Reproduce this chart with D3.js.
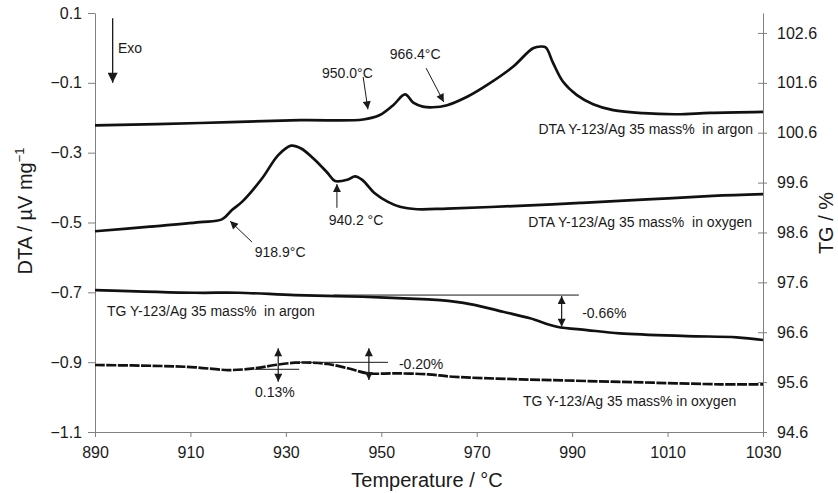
<!DOCTYPE html>
<html>
<head>
<meta charset="utf-8">
<script src="https://cdn.jsdelivr.net/npm/d3@7"></script>
<style>
  html, body { margin: 0; padding: 0; background: #fff; }
  svg text { font-family: "Liberation Sans", Arial, sans-serif; fill: #1a1a1a; }
</style>
</head>
<body>
<svg id="chart" width="838" height="493"></svg>
<script>
// ---- data ----
const xTicks = [890, 910, 930, 950, 970, 990, 1010, 1030];
const yLeftTicks = [-1.1, -0.9, -0.7, -0.5, -0.3, -0.1, 0.1];
const yRightTicks = [94.6, 95.6, 96.6, 97.6, 98.6, 99.6, 100.6, 101.6, 102.6];

const dtaArgonT = [890, 912, 933, 946.2, 949.7, 952.5, 955, 956.7, 958.7, 960.8, 963.8, 968, 972.2, 977.6, 981.8, 983.5, 984.5, 986, 988.1, 991, 994.4, 998.6, 1004.9, 1012, 1018.9, 1030];
const dtaArgonV = [-0.222, -0.215, -0.207, -0.205, -0.192, -0.164, -0.133, -0.157, -0.168, -0.170, -0.164, -0.140, -0.106, -0.054, -0.001, 0.004, 0.001, -0.043, -0.097, -0.135, -0.161, -0.178, -0.187, -0.190, -0.186, -0.183];

const dtaOxT = [890, 901.5, 912, 916.6, 918.7, 920.8, 925, 928.4, 931.1, 933.2, 936.1, 938.8, 940.3, 943, 944.5, 946, 948.7, 951.4, 953.9, 957.5, 963.8, 977.6, 991.7, 1005.7, 1019.5, 1030];
const dtaOxV = [-0.525, -0.512, -0.499, -0.491, -0.464, -0.441, -0.374, -0.307, -0.280, -0.288, -0.321, -0.359, -0.381, -0.377, -0.368, -0.378, -0.417, -0.441, -0.455, -0.462, -0.460, -0.453, -0.444, -0.434, -0.424, -0.419];

const tgArT = [890, 911, 920, 931.9, 946, 959.8, 962.3, 968.6, 975.5, 981.2, 986.8, 993.1, 1000, 1014, 1024.5, 1030];
const tgArV = [97.446, 97.392, 97.392, 97.345, 97.311, 97.259, 97.245, 97.165, 97.011, 96.879, 96.710, 96.644, 96.578, 96.524, 96.498, 96.444];

const tgOxT = [890, 904, 911, 917.9, 923.5, 927.7, 931.9, 935.5, 938.8, 943, 947.2, 952.9, 959.8, 965, 979.1, 993.1, 1007, 1021, 1030];
const tgOxV = [95.943, 95.923, 95.897, 95.842, 95.877, 95.943, 95.989, 95.989, 95.963, 95.877, 95.776, 95.776, 95.756, 95.708, 95.656, 95.622, 95.588, 95.556, 95.556];

// series labels: [text, T, value, axis, anchor]
const seriesLabels = [
  ["DTA Y-123/Ag 35 mass%  in argon", 1027.9, -0.232, "L", "end"],
  ["DTA Y-123/Ag 35 mass%  in oxygen", 1027.7, -0.498, "L", "end"],
  ["TG Y-123/Ag 35 mass%  in argon", 892.5, 97.025, "R", "start"],
  ["TG Y-123/Ag 35 mass% in oxygen", 979.7, 95.221, "R", "start"]
];

// temperature annotations: [text, textT, textV, tailT, tailV, tipT, tipV]
const tempNotes = [
  ["950.0°C", 942.9, -0.072, 946.2, -0.083, 947.2, -0.176],
  ["966.4°C", 957.1, -0.017, 959.4, -0.058, 963.1, -0.155],
  ["918.9°C", 928.8, -0.585, 922.9, -0.556, 918.3, -0.496],
  ["940.2 °C", 944.7, -0.493, 940.7, -0.458, 940.7, -0.390]
];

// TG step annotations (right axis units)
const refLines = [ // [T1, T2, value]
  [940, 991.4, 97.345],
  [923.5, 932.8, 95.857],
  [931.9, 951.4, 95.997]
];
const doubleArrows = [ // [T, v1, v2]
  [987.8, 97.325, 96.71],
  [928.4, 96.277, 95.608],
  [947.4, 96.277, 95.642]
];
const stepLabels = [ // [text, T, v, anchor]
  ["-0.66%", 992.1, 96.99, "start"],
  ["0.13%", 927.7, 95.408, "middle"],
  ["-0.20%", 953.7, 95.963, "start"]
];

// ---- chart ----
const svg = d3.select("#chart");
const x = d3.scaleLinear([890, 1030], [95, 763]);
const yL = d3.scaleLinear([-1.1, 0.1], [432, 13]);
const yR = d3.scaleLinear([94.6, 103.0], [432, 13]);
const axisColor = "#808080";

const defs = svg.append("defs");
defs.append("marker").attr("id", "ah").attr("viewBox", "0 0 10 10")
  .attr("refX", 10).attr("refY", 5).attr("markerWidth", 9).attr("markerHeight", 8)
  .attr("markerUnits", "userSpaceOnUse").attr("orient", "auto-start-reverse")
  .append("path").attr("d", "M0,0 L10,5 L0,10 z").attr("fill", "#1a1a1a");
defs.append("marker").attr("id", "ahBig").attr("viewBox", "0 0 10 10")
  .attr("refX", 10).attr("refY", 5).attr("markerWidth", 11).attr("markerHeight", 10)
  .attr("markerUnits", "userSpaceOnUse").attr("orient", "auto")
  .append("path").attr("d", "M0,0 L10,5 L0,10 z").attr("fill", "#1a1a1a");

function styleAxis(g) {
  g.selectAll("path.domain").attr("stroke", axisColor).attr("stroke-width", 1);
  g.selectAll(".tick line").attr("stroke", axisColor);
  g.selectAll(".tick text").attr("font-size", 16).attr("fill", "#1a1a1a")
    .attr("font-family", "Liberation Sans, Arial, sans-serif");
}

const gx = svg.append("g").attr("transform", "translate(0,432)")
  .call(d3.axisBottom(x).tickValues(xTicks).tickSize(5).tickSizeOuter(0).tickPadding(10).tickFormat(d3.format("d")));
styleAxis(gx);

const fmtL = d => d3.format(".1f")(d);
const gyl = svg.append("g").attr("transform", "translate(95,0)")
  .call(d3.axisLeft(yL).tickValues(yLeftTicks).tickSize(7).tickSizeOuter(0).tickPadding(6).tickFormat(fmtL));
styleAxis(gyl);

const gyr = svg.append("g").attr("transform", "translate(763,0)")
  .call(d3.axisRight(yR).tickValues(yRightTicks).tickSize(4).tickSizeOuter(0).tickPadding(10).tickFormat(d3.format(".1f")));
styleAxis(gyr);
gyr.selectAll(".tick line").attr("x1", -5).attr("x2", 4);

// axis titles
svg.append("text").attr("transform", "translate(32,211) rotate(-90)")
  .attr("text-anchor", "middle").attr("font-size", 20)
  .text("DTA / µV mg")
  .append("tspan").attr("font-size", 13).attr("dy", -8).text("−1");
svg.append("text").attr("transform", "translate(833,223) rotate(-90)")
  .attr("text-anchor", "middle").attr("font-size", 20).text("TG / %");
svg.append("text").attr("x", 427).attr("y", 487)
  .attr("text-anchor", "middle").attr("font-size", 20).text("Temperature / °C");

// curves
const curve = d3.curveCatmullRom.alpha(0.5);
function drawSeries(ts, vs, yScale, dash) {
  const pts = ts.map((t, i) => [t, vs[i]]);
  const p = svg.append("path").datum(pts)
    .attr("fill", "none").attr("stroke", "#111").attr("stroke-width", 2.7)
    .attr("stroke-linejoin", "round")
    .attr("d", d3.line().x(d => x(d[0])).y(d => yScale(d[1])).curve(curve));
  if (dash) p.attr("stroke-dasharray", dash);
}
drawSeries(dtaArgonT, dtaArgonV, yL);
drawSeries(dtaOxT, dtaOxV, yL);
drawSeries(tgArT, tgArV, yR);
drawSeries(tgOxT, tgOxV, yR, "10,1.5");

// series labels
seriesLabels.forEach(([t, T, v, ax, anchor]) => {
  const ys = ax === "L" ? yL : yR;
  svg.append("text").attr("x", x(T)).attr("y", ys(v)).attr("dy", "0.35em")
    .attr("text-anchor", anchor).attr("font-size", 14)
    .style("white-space", "pre").text(t);
});

// Exo arrow
svg.append("line").attr("x1", x(893.7)).attr("x2", x(893.7))
  .attr("y1", yL(0.085)).attr("y2", yL(-0.1))
  .attr("stroke", "#1a1a1a").attr("stroke-width", 1.3).attr("marker-end", "url(#ahBig)");
svg.append("text").attr("x", x(894.8)).attr("y", yL(0.0006)).attr("dy", "0.35em")
  .attr("font-size", 14).text("Exo");

// temperature notes
tempNotes.forEach(([t, tx, tv, aT, aV, bT, bV]) => {
  svg.append("text").attr("x", x(tx)).attr("y", yL(tv)).attr("dy", "0.35em")
    .attr("text-anchor", "middle").attr("font-size", 14).text(t);
  svg.append("line").attr("x1", x(aT)).attr("y1", yL(aV)).attr("x2", x(bT)).attr("y2", yL(bV))
    .attr("stroke", "#1a1a1a").attr("stroke-width", 1).attr("marker-end", "url(#ah)");
});

// TG step annotations
refLines.forEach(([t1, t2, v]) => {
  svg.append("line").attr("x1", x(t1)).attr("x2", x(t2)).attr("y1", yR(v)).attr("y2", yR(v))
    .attr("stroke", "#1a1a1a").attr("stroke-width", 1);
});
doubleArrows.forEach(([t, v1, v2]) => {
  svg.append("line").attr("x1", x(t)).attr("x2", x(t)).attr("y1", yR(v1)).attr("y2", yR(v2))
    .attr("stroke", "#1a1a1a").attr("stroke-width", 1.2)
    .attr("marker-start", "url(#ah)").attr("marker-end", "url(#ah)");
});
stepLabels.forEach(([t, T, v, anchor]) => {
  svg.append("text").attr("x", x(T)).attr("y", yR(v)).attr("dy", "0.35em")
    .attr("text-anchor", anchor).attr("font-size", 14).text(t);
});
</script>
</body>
</html>
